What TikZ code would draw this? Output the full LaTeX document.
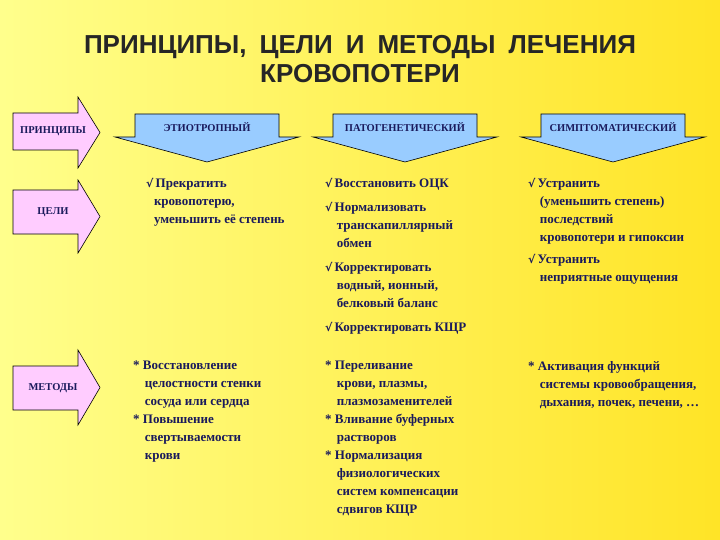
\documentclass[tikz,border=0pt]{standalone}
\usepackage{fontspec}
\setmainfont{Liberation Serif}
\newfontfamily\titlefont{Liberation Sans}
\newfontfamily\symfont{DejaVu Sans}
\definecolor{ink}{HTML}{1A1A5C}
\definecolor{pinkf}{HTML}{FFCCFF}
\definecolor{bluef}{HTML}{99CCFF}
\begin{document}
\begin{tikzpicture}[x=1pt,y=-1pt,
  pinkarrow/.style={draw=black,fill=pinkf,line width=0.6pt},
  bluebanner/.style={draw=black,fill=bluef,line width=0.6pt},
  lbl/.style={text=ink,font=\bfseries\fontsize{10.5}{12}\selectfont},
  blk/.style={text=ink,font=\bfseries\fontsize{13}{18}\selectfont,align=left,anchor=north west,inner sep=0pt},
  ttl/.style={text=black!85,font=\titlefont\bfseries\fontsize{26}{29}\selectfont,align=center}]
\shade[left color=yellow!45!white,right color=yellow!75!orange!85!white] (0,0) rectangle (720,540);
\useasboundingbox (0,0) rectangle (720,540);
\newcommand{\ck}{{\symfont\fontsize{11}{12}\selectfont√}\,}
\node[ttl] (title) at (360,59) {ПРИНЦИПЫ,\enspace ЦЕЛИ\enspace И\enspace МЕТОДЫ\enspace ЛЕЧЕНИЯ\\КРОВОПОТЕРИ};
% pink arrows
\foreach \n/\a/\b/\c/\d/\t in {p/97/113/150/168/ПРИНЦИПЫ,g/180/190/234/253/ЦЕЛИ,m/350/366/410/425/МЕТОДЫ}{
  \draw[pinkarrow] (13,\b) -- (78,\b) -- (78,\a) -- (100,{(\a+\d)/2}) -- (78,\d) -- (78,\c) -- (13,\c) -- cycle;
  \node[lbl] (\n) at (53,{(\b+\c)/2}) {\t};
}
% blue banners
\foreach \n/\cx/\t in {b1/207/ЭТИОТРОПНЫЙ,b2/405/ПАТОГЕНЕТИЧЕСКИЙ,b3/613/СИМПТОМАТИЧЕСКИЙ}{
  \draw[bluebanner] (\cx-72,114) -- (\cx+72,114) -- (\cx+72,137) -- (\cx+92,137) -- (\cx,162) -- (\cx-92,137) -- (\cx-72,137) -- cycle;
  \node[lbl] (\n) at (\cx,127) {\t};
}
% goals
\node[blk] (g1) at (146,178) {\ck Прекратить\\\hspace*{0.6em}кровопотерю,\\\hspace*{0.6em}уменьшить её степень};
\node[blk] (g2) at (325,178) {\ck Восстановить ОЦК\\[6pt]
\ck Нормализовать\\\hspace*{0.9em}транскапиллярный\\\hspace*{0.9em}обмен\\[6pt]
\ck Корректировать\\\hspace*{0.9em}водный, ионный,\\\hspace*{0.9em}белковый баланс\\[6pt]
\ck Корректировать КЩР};
\node[blk] (g3) at (528,178) {\ck Устранить\\\hspace*{0.9em}(уменьшить степень)\\\hspace*{0.9em}последствий\\\hspace*{0.9em}кровопотери и гипоксии\\[4pt]
\ck Устранить\\\hspace*{0.9em}неприятные ощущения};
% methods
\node[blk] (m1) at (133,361) {* Восстановление\\\hspace*{0.9em}целостности стенки\\\hspace*{0.9em}сосуда или сердца\\* Повышение\\\hspace*{0.9em}свертываемости\\\hspace*{0.9em}крови};
\node[blk] (m2) at (325,361) {* Переливание\\\hspace*{0.9em}крови, плазмы,\\\hspace*{0.9em}плазмозаменителей\\* Вливание буферных\\\hspace*{0.9em}растворов\\* Нормализация\\\hspace*{0.9em}физиологических\\\hspace*{0.9em}систем компенсации\\\hspace*{0.9em}сдвигов КЩР};
\node[blk] (m3) at (528,361) {* Активация функций\\\hspace*{0.9em}системы кровообращения,\\\hspace*{0.9em}дыхания, почек, печени, …};
\end{tikzpicture}
\end{document}
